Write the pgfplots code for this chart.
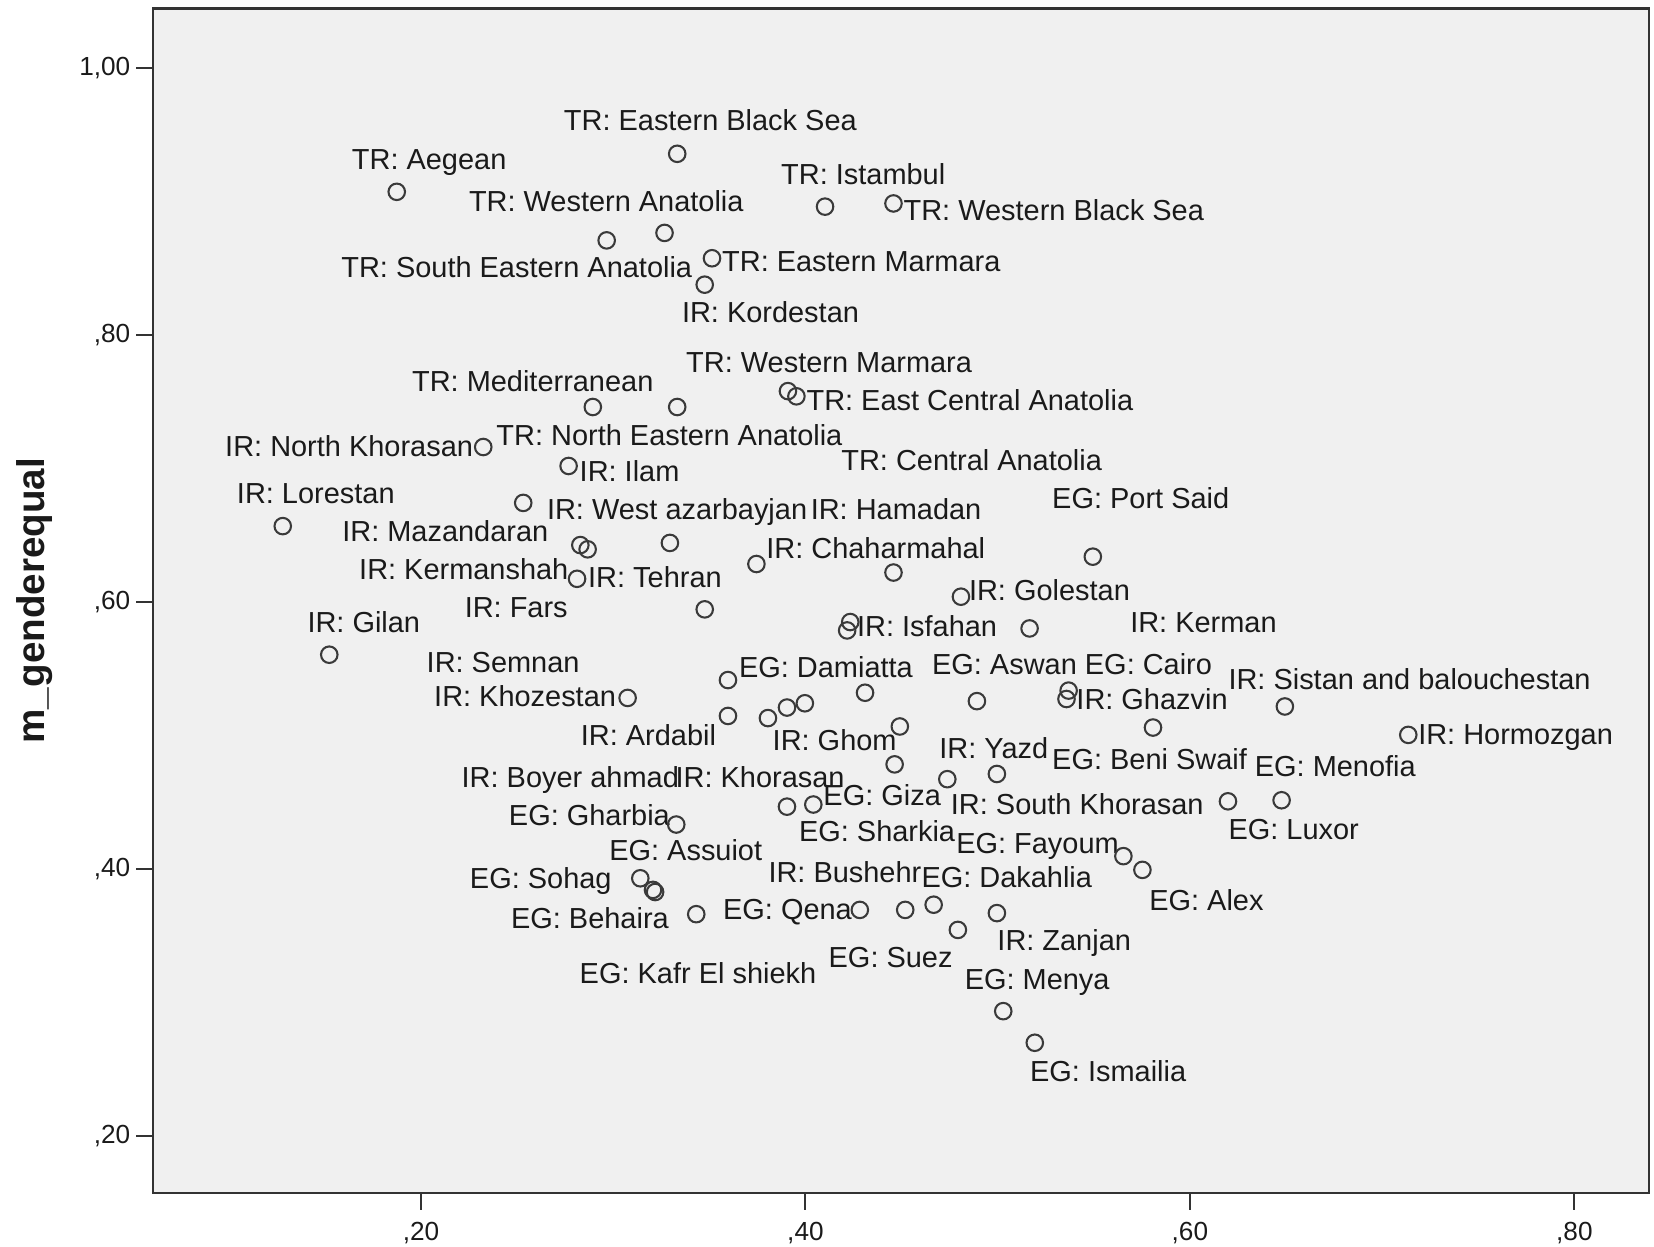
\documentclass[border=0pt]{standalone}
\usepackage{fontspec}
\setmainfont{Liberation Sans}
\usepackage{pgfplots}
\pgfplotsset{compat=1.18}
\definecolor{bg}{HTML}{F0F0F0}
\definecolor{frame}{HTML}{333333}
\definecolor{mk}{HTML}{3A3A3A}
\definecolor{txt}{HTML}{1A1A1A}
\tikzset{lbl/.style={anchor=west, inner sep=0pt, text height=0.716em, text depth=0pt, font=\fontsize{10.5}{12}\selectfont, text=txt}}
\begin{document}
\begin{tikzpicture}
\begin{axis}[
  scale only axis,
  width=542.6pt, height=429.7pt,
  xmin=0.0606, xmax=0.8387, ymin=0.157, ymax=1.045,
  axis background/.style={fill=bg},
  axis line style={frame, line width=0.8pt},
  tick style={frame, line width=0.75pt},
  tick align=outside, tick pos=left,
  major tick length=6pt,
  xtick={0.2,0.4,0.6,0.8},
  xticklabels={{,20},{,40},{,60},{,80}},
  ytick={0.2,0.4,0.6,0.8,1.0},
  yticklabels={{,20},{,40},{,60},{,80},{1,00}},
  ticklabel style={font=\fontsize{9.5}{11}\selectfont, text=txt},
  xticklabel style={yshift=-1pt},
  yticklabel style={xshift=1.3pt},
  ylabel={m\_genderequal},
  ylabel style={at={(axis description cs:-0.0793,0.5)}, anchor=center, font=\fontsize{14}{16}\selectfont\bfseries, text=txt},
  clip=false,
]
\addplot[only marks, mark=o, mark size=3pt, mark options={mk, line width=0.75pt}] coordinates {
(0.3333,0.9360) (0.1874,0.9075) (0.2966,0.8711) (0.3267,0.8767) (0.4102,0.8964)
(0.4458,0.8988) (0.3514,0.8577) (0.3476,0.8379) (0.2894,0.7462) (0.3333,0.7462)
(0.3909,0.7581) (0.3953,0.7542) (0.2324,0.7162) (0.2768,0.7020) (0.2532,0.6743)
(0.1281,0.6569) (0.2829,0.6427) (0.2867,0.6395) (0.3295,0.6443) (0.2812,0.6174)
(0.3745,0.6285) (0.4458,0.6221) (0.5495,0.6340) (0.4809,0.6040) (0.3476,0.5945)
(0.4233,0.5850) (0.4217,0.5787) (0.5166,0.5802) (0.1523,0.5605) (0.3597,0.5415)
(0.3075,0.5281) (0.4310,0.5320) (0.4892,0.5257) (0.5369,0.5336) (0.5358,0.5273)
(0.3597,0.5146) (0.3805,0.5130) (0.3904,0.5209) (0.3997,0.5241) (0.4491,0.5067)
(0.5808,0.5059) (0.6494,0.5217) (0.7136,0.5004) (0.4464,0.4783) (0.4738,0.4672)
(0.4996,0.4711) (0.3904,0.4466) (0.4041,0.4482) (0.6198,0.4506) (0.6477,0.4514)
(0.3328,0.4332) (0.5654,0.4095) (0.5753,0.3992) (0.3141,0.3929) (0.3207,0.3842)
(0.3218,0.3826) (0.3432,0.3660) (0.4283,0.3692) (0.4519,0.3692) (0.4667,0.3731)
(0.4793,0.3542) (0.4996,0.3668) (0.5029,0.2933) (0.5193,0.2696)
};
\node[lbl] at (axis cs:0.2741,0.9605) {TR: Eastern Black Sea};
\node[lbl] at (axis cs:0.1638,0.9320) {TR: Aegean};
\node[lbl] at (axis cs:0.2247,0.9004) {TR: Western Anatolia};
\node[lbl] at (axis cs:0.3871,0.9202) {TR: Istambul};
\node[lbl] at (axis cs:0.4508,0.8933) {TR: Western Black Sea};
\node[lbl] at (axis cs:0.1583,0.8506) {TR: South Eastern Anatolia};
\node[lbl] at (axis cs:0.3564,0.8553) {TR: Eastern Marmara};
\node[lbl] at (axis cs:0.3355,0.8166) {IR: Kordestan};
\node[lbl] at (axis cs:0.3377,0.7794) {TR: Western Marmara};
\node[lbl] at (axis cs:0.1951,0.7652) {TR: Mediterranean};
\node[lbl] at (axis cs:0.4003,0.7510) {TR: East Central Anatolia};
\node[lbl] at (axis cs:0.0979,0.7162) {IR: North Khorasan};
\node[lbl] at (axis cs:0.2390,0.7249) {TR: North Eastern Anatolia};
\node[lbl] at (axis cs:0.2823,0.6980) {IR: Ilam};
\node[lbl] at (axis cs:0.4184,0.7059) {TR: Central Anatolia};
\node[lbl] at (axis cs:0.1040,0.6814) {IR: Lorestan};
\node[lbl] at (axis cs:0.5281,0.6775) {EG: Port Said};
\node[lbl] at (axis cs:0.2653,0.6696) {IR: West azarbayjan};
\node[lbl] at (axis cs:0.4025,0.6696) {IR: Hamadan};
\node[lbl] at (axis cs:0.1588,0.6530) {IR: Mazandaran};
\node[lbl] at (axis cs:0.3794,0.6403) {IR: Chaharmahal};
\node[lbl] at (axis cs:0.1676,0.6245) {IR: Kermanshah};
\node[lbl] at (axis cs:0.2867,0.6182) {IR: Tehran};
\node[lbl] at (axis cs:0.4848,0.6087) {IR: Golestan};
\node[lbl] at (axis cs:0.2225,0.5960) {IR: Fars};
\node[lbl] at (axis cs:0.1407,0.5842) {IR: Gilan};
\node[lbl] at (axis cs:0.4266,0.5818) {IR: Isfahan};
\node[lbl] at (axis cs:0.5687,0.5842) {IR: Kerman};
\node[lbl] at (axis cs:0.2027,0.5549) {IR: Semnan};
\node[lbl] at (axis cs:0.3652,0.5510) {EG: Damiatta};
\node[lbl] at (axis cs:0.4656,0.5534) {EG: Aswan};
\node[lbl] at (axis cs:0.5451,0.5534) {EG: Cairo};
\node[lbl] at (axis cs:0.6198,0.5415) {IR: Sistan and balouchestan};
\node[lbl] at (axis cs:0.2066,0.5289) {IR: Khozestan};
\node[lbl] at (axis cs:0.5407,0.5265) {IR: Ghazvin};
\node[lbl] at (axis cs:0.2829,0.4996) {IR: Ardabil};
\node[lbl] at (axis cs:0.3827,0.4964) {IR: Ghom};
\node[lbl] at (axis cs:0.7185,0.5004) {IR: Hormozgan};
\node[lbl] at (axis cs:0.4694,0.4901) {IR: Yazd};
\node[lbl] at (axis cs:0.5281,0.4822) {EG: Beni Swaif};
\node[lbl] at (axis cs:0.6335,0.4767) {EG: Menofia};
\node[lbl] at (axis cs:0.2209,0.4680) {IR: Boyer ahmad};
\node[lbl] at (axis cs:0.3322,0.4680) {IR: Khorasan};
\node[lbl] at (axis cs:0.4091,0.4545) {EG: Giza};
\node[lbl] at (axis cs:0.4754,0.4482) {IR: South Khorasan};
\node[lbl] at (axis cs:0.2455,0.4395) {EG: Gharbia};
\node[lbl] at (axis cs:0.3964,0.4277) {EG: Sharkia};
\node[lbl] at (axis cs:0.6198,0.4292) {EG: Luxor};
\node[lbl] at (axis cs:0.2977,0.4134) {EG: Assuiot};
\node[lbl] at (axis cs:0.4782,0.4190) {EG: Fayoum};
\node[lbl] at (axis cs:0.3805,0.3968) {IR: Bushehr};
\node[lbl] at (axis cs:0.4601,0.3937) {EG: Dakahlia};
\node[lbl] at (axis cs:0.2252,0.3929) {EG: Sohag};
\node[lbl] at (axis cs:0.5786,0.3763) {EG: Alex};
\node[lbl] at (axis cs:0.2466,0.3628) {EG: Behaira};
\node[lbl] at (axis cs:0.3569,0.3692) {EG: Qena};
\node[lbl] at (axis cs:0.4996,0.3462) {IR: Zanjan};
\node[lbl] at (axis cs:0.4118,0.3336) {EG: Suez};
\node[lbl] at (axis cs:0.2823,0.3217) {EG: Kafr El shiekh};
\node[lbl] at (axis cs:0.4826,0.3170) {EG: Menya};
\node[lbl] at (axis cs:0.5166,0.2482) {EG: Ismailia};
\end{axis}
\pgfresetboundingbox
\path[use as bounding box] ([shift={(-55.5pt,-19.25pt)}]current axis.south west) rectangle ([shift={(1.9pt,3.05pt)}]current axis.north east);
\end{tikzpicture}
\end{document}
